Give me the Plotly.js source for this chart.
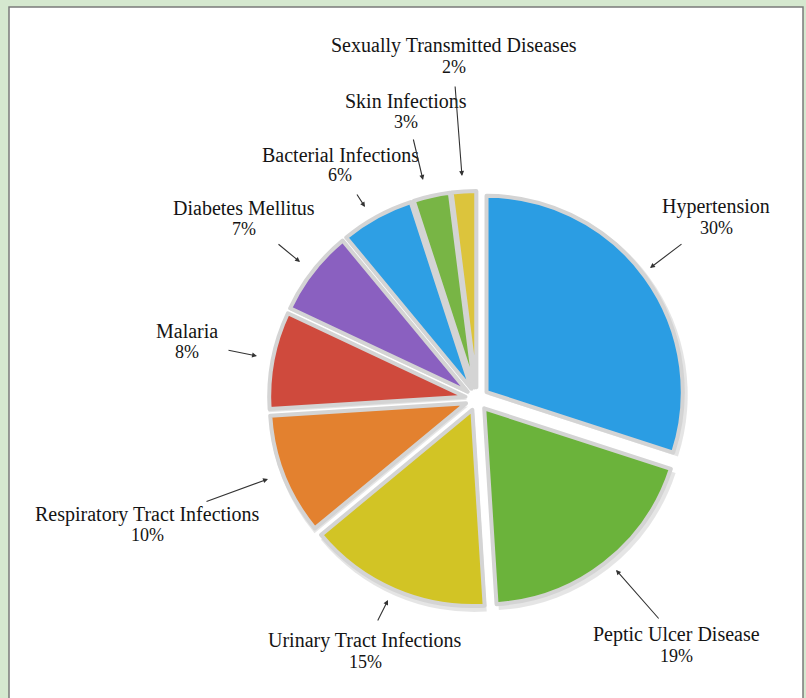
<!DOCTYPE html>
<html>
<head>
<meta charset="utf-8">
<script src="https://cdn.plot.ly/plotly-3.0.1.min.js"></script>
<style>html,body{margin:0;padding:0;background:#d5e8cf;}#chart{width:806px;height:698px;}</style>
</head>
<body>
<div id="chart"></div>
<script>
// ---- data ----
const categories = [
  "Hypertension", "Peptic Ulcer Disease", "Urinary Tract Infections",
  "Respiratory Tract Infections", "Malaria", "Diabetes Mellitus",
  "Bacterial Infections", "Skin Infections", "Sexually Transmitted Diseases"
];
const percentages = [30, 19, 15, 10, 8, 7, 6, 3, 2];

// ---- styles / layout positions (pixels in the 806x698 frame) ----
const sliceColors = ["#2b9de3", "#6bb33b", "#d2c425", "#e3812f", "#cf4a3d",
                     "#8a60c0", "#2e9fe4", "#78b545", "#dcc43c"];
// label centre x, name y, percent y
const labelPos = [
  [716, 207, 228], [676, 634, 656], [365, 640, 662], [147, 514, 535],
  [187, 331, 352], [244, 208, 229], [340, 155, 175], [406, 101, 122], [454, 46, 67]
];
// arrow tail -> tip
const arrowPos = [
  [683, 243, 650, 268], [660, 620, 616, 570], [377, 622, 388, 600], [205, 502, 268, 479],
  [227, 350, 257, 356], [277, 243, 300, 262], [356, 193, 365, 207], [413, 138, 423, 180], [455, 85, 462, 176]
];

const W = 806, H = 698;
const px = x => x / W;
const py = y => 1 - y / H;

const pull = 0.06;
const cx = 477, cy = 399, R = 208;
const dom = {x: [px(cx - R), px(cx + R)], y: [py(cy + R), py(cy - R)]};
const domShadow = {x: [px(cx - R - 1), px(cx + R + 5)], y: [py(cy + R + 6), py(cy - R)]};

const shadow = {
  type: "pie", values: percentages, labels: categories, sort: false,
  direction: "clockwise", rotation: 0, pull: pull, textinfo: "none",
  hoverinfo: "skip", showlegend: false, domain: domShadow,
  marker: {colors: categories.map(() => "rgba(0,0,0,0.10)"), line: {width: 0}}
};
const main = {
  type: "pie", values: percentages, labels: categories, sort: false,
  direction: "clockwise", rotation: 0, pull: pull, textinfo: "none",
  showlegend: false, domain: dom,
  marker: {colors: sliceColors, line: {color: "#d4d4d4", width: 4}}
};

const font = {family: "Liberation Serif, Times New Roman, serif", size: 20, color: "#141414"};
const annotations = [];
categories.forEach((c, i) => {
  const [lx, ny, pyy] = labelPos[i];
  annotations.push({xref: "paper", yref: "paper", x: px(lx), y: py(ny), text: c,
    showarrow: false, font: font, xanchor: "center", yanchor: "middle"});
  annotations.push({xref: "paper", yref: "paper", x: px(lx), y: py(pyy), text: percentages[i] + "%",
    showarrow: false, font: Object.assign({}, font, {size: 18}), xanchor: "center", yanchor: "middle"});
  const [tx, ty, hx, hy] = arrowPos[i];
  annotations.push({xref: "paper", yref: "paper", x: px(hx), y: py(hy), ax: tx - hx, ay: ty - hy,
    text: "", showarrow: true, arrowhead: 2, arrowsize: 0.9, arrowwidth: 1.1, arrowcolor: "#333",
    font: {size: 1}});
});

const layout = {
  width: W, height: H,
  margin: {l: 0, r: 0, t: 0, b: 0},
  paper_bgcolor: "#d5e8cf",
  showlegend: false,
  shapes: [{type: "rect", xref: "paper", yref: "paper", layer: "below",
    x0: px(9), x1: px(803), y0: -0.02, y1: py(7),
    fillcolor: "#ffffff", line: {color: "#7a7a7a", width: 1.5}}],
  annotations: annotations
};

Plotly.newPlot("chart", [shadow, main], layout, {displayModeBar: false, staticPlot: true});
</script>
</body>
</html>
